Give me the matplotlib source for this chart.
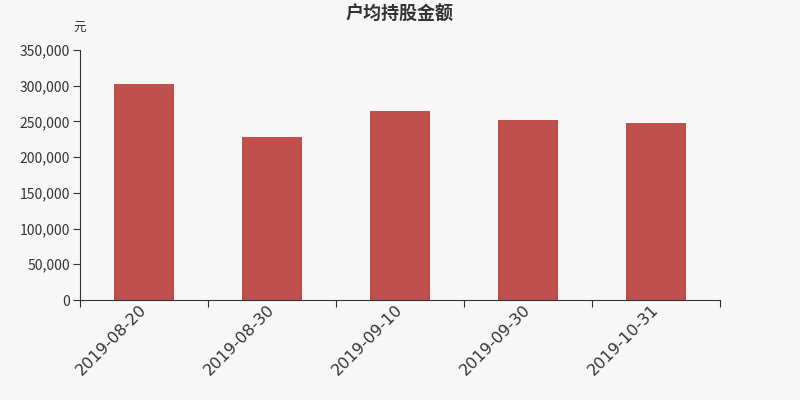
import matplotlib
matplotlib.use("Agg")
import matplotlib.pyplot as plt
from matplotlib.ticker import FuncFormatter, FixedLocator
import numpy as np

plt.rcParams['font.family'] = ['Noto Sans CJK SC', 'DejaVu Sans']

categories = ["2019-08-20", "2019-08-30", "2019-09-10", "2019-09-30", "2019-10-31"]
values = [302000, 228000, 264000, 252000, 248000]
title = "户均持股金额"
unit = "元"

bg = "#f7f7f7"
bar_color = "#c0504d"
text_color = "#333333"

fig = plt.figure(figsize=(8, 4), dpi=100, facecolor=bg)
ax = fig.add_axes([0.1, 0.25, 0.8, 0.625], facecolor=bg)

x = np.arange(len(categories))
ax.bar(x, values, width=0.47, color=bar_color, zorder=2)

ax.set_xlim(-0.5, len(categories) - 0.5)
ax.set_ylim(0, 350000)
ax.set_yticks(np.arange(0, 350001, 50000))
ax.yaxis.set_major_formatter(FuncFormatter(lambda v, p: f"{int(v):,}"))

ax.xaxis.set_major_locator(FixedLocator(np.arange(-0.5, len(categories), 1.0)))
ax.xaxis.set_major_formatter(FuncFormatter(lambda v, p: ""))
ax.xaxis.set_minor_locator(FixedLocator(x))
ax.set_xticklabels(categories, minor=True, rotation=45, ha='right', va='center',
                   rotation_mode='anchor', fontsize=11.5, color=text_color,
                   family=['DejaVu Sans'])
ax.tick_params(axis='x', which='minor', length=0, pad=5)
ax.tick_params(axis='x', which='major', length=5, color=text_color)
ax.tick_params(axis='y', length=5, color=text_color, labelsize=10, labelcolor=text_color, pad=2)

for s in ['top', 'right']:
    ax.spines[s].set_visible(False)
for s in ['left', 'bottom']:
    ax.spines[s].set_color(text_color)

fig.text(0.5, 0.965, title, ha='center', va='center', fontsize=13, fontweight='bold', color=text_color)
fig.text(0.099, 0.93, unit, ha='center', va='center', fontsize=9, color=text_color)

fig.savefig("out.png", dpi=100, facecolor=bg)
